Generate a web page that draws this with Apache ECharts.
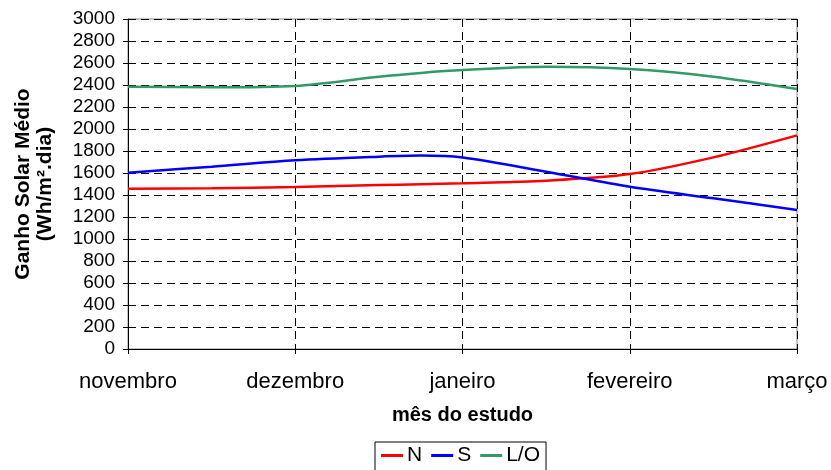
<!DOCTYPE html>
<html>
<head>
<meta charset="utf-8">
<script src="https://cdn.jsdelivr.net/npm/echarts@6/dist/echarts.min.js"></script>
<style>
  html, body { margin: 0; padding: 0; background: #fff; }
  #chart { width: 831px; height: 470px; }
</style>
</head>
<body>
<div id="chart"></div>
<script>
// meses (posições 0..4 no eixo)
var months = ['novembro', 'dezembro', 'janeiro', 'fevereiro', 'março'];
var yTicks = [0, 200, 400, 600, 800, 1000, 1200, 1400, 1600, 1800, 2000, 2200, 2400, 2600, 2800, 3000];

// posição ao longo do período de estudo (em meses)
var pos = [0, 0.5, 1, 1.5, 1.75, 2, 2.5, 3, 3.5, 4];

// ganho solar médio (Wh/m².dia)
var serieN  = [1457, 1462, 1473, 1490, 1498, 1506, 1530, 1590, 1742, 1942];
var serieS  = [1603, 1657, 1715, 1748, 1758, 1740, 1612, 1475, 1370, 1264];
var serieLO = [2385, 2380, 2392, 2476, 2510, 2536, 2565, 2545, 2476, 2364];

function pairs(vals)
{
    var out = [];
    for (var i = 0; i < vals.length; i++)
    {
        out.push([pos[i], vals[i]]);
    }
    return out;
}

var myChart = echarts.init(document.getElementById('chart'));

var font = 'Liberation Sans, Arial, sans-serif';
var dashed = { show: true, lineStyle: { color: '#000', type: [8, 5], width: 1 } };

var option = {
    animation: false,
    textStyle: { fontFamily: font },
    grid: {
        left: 128, right: 34, top: 19, bottom: 121,
        show: true, borderColor: '#888', borderWidth: 1
    },
    legend: {
        data: ['N', 'S', 'L/O'],
        left: 375, top: 442,
        padding: [3, 6, 6, 6],
        borderColor: '#000', borderWidth: 1,
        icon: 'rect', itemWidth: 22, itemHeight: 3, itemGap: 9,
        textStyle: { fontSize: 21, color: '#000', fontFamily: font, padding: [0, 0, 0, -1] }
    },
    xAxis: {
        type: 'value',
        min: 0, max: 4, interval: 1,
        name: 'mês do estudo',
        nameLocation: 'middle',
        nameGap: 56,
        nameTextStyle: { fontSize: 20, fontWeight: 'bold', color: '#000', fontFamily: font },
        axisLine: { show: true, lineStyle: { color: '#000', width: 1 } },
        axisTick: { show: true, length: 5, lineStyle: { color: '#000' } },
        axisLabel: {
            fontSize: 22, color: '#000', margin: 22, fontFamily: font,
            formatter: function (v) { return months[Math.round(v)]; }
        },
        splitLine: dashed
    },
    yAxis: {
        type: 'value',
        min: yTicks[0], max: yTicks[yTicks.length - 1], interval: 200,
        name: 'Ganho Solar Médio\n(Wh/m².dia)',
        nameLocation: 'middle',
        nameRotate: 90,
        nameGap: 72,
        nameTextStyle: { fontSize: 21, fontWeight: 'bold', color: '#000', lineHeight: 22, fontFamily: font },
        axisLine: { show: true, lineStyle: { color: '#000', width: 1 } },
        axisTick: { show: true, length: 5, lineStyle: { color: '#000' } },
        axisLabel: {
            fontSize: 19, color: '#000', margin: 13, fontFamily: font,
            formatter: function (v) { return String(v); }
        },
        splitLine: dashed
    },
    series: [
        {
            name: 'N', type: 'line', smooth: 0.3, showSymbol: false,
            data: pairs(serieN),
            itemStyle: { color: '#ff0000' },
            lineStyle: { color: '#ff0000', width: 2.5 }
        },
        {
            name: 'S', type: 'line', smooth: 0.3, showSymbol: false,
            data: pairs(serieS),
            itemStyle: { color: '#0000ff' },
            lineStyle: { color: '#0000ff', width: 2.5 }
        },
        {
            name: 'L/O', type: 'line', smooth: 0.3, showSymbol: false,
            data: pairs(serieLO),
            itemStyle: { color: '#339966' },
            lineStyle: { color: '#339966', width: 2.5 }
        }
    ]
};

myChart.setOption(option);
</script>
</body>
</html>
